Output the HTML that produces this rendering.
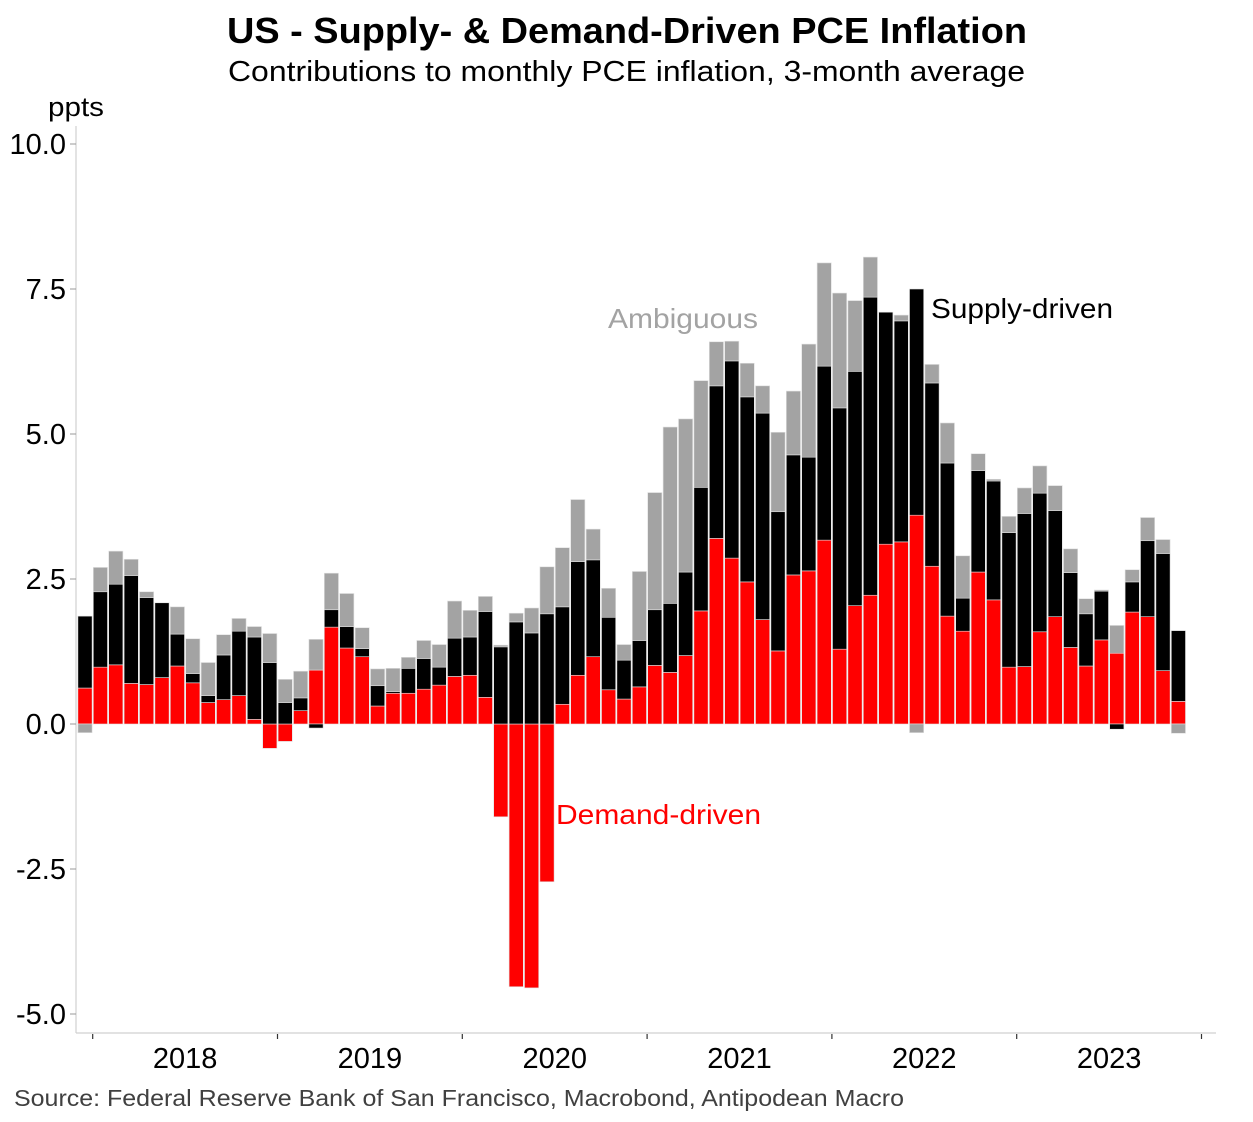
<!DOCTYPE html>
<html><head><meta charset="utf-8"><style>
html,body{margin:0;padding:0;background:#fff;}
svg{display:block;font-family:"Liberation Sans",Arial,sans-serif;}
</style></head><body>
<svg id="chart" width="1253" height="1122" viewBox="0 0 1253 1122">
<text x="227" y="43" font-size="36" font-weight="bold" textLength="800" lengthAdjust="spacingAndGlyphs">US - Supply- &amp; Demand-Driven PCE Inflation</text>
<text x="228" y="81" font-size="29" textLength="797" lengthAdjust="spacingAndGlyphs">Contributions to monthly PCE inflation, 3-month average</text>
<text x="48" y="116" font-size="27" textLength="56" lengthAdjust="spacingAndGlyphs">ppts</text>
<g id="bars"></g>
<g id="axes"></g>
<text x="608" y="328" font-size="28" fill="#a3a3a3" textLength="150" lengthAdjust="spacingAndGlyphs">Ambiguous</text>
<text x="931" y="318" font-size="28" fill="#000" textLength="182" lengthAdjust="spacingAndGlyphs">Supply-driven</text>
<text x="556" y="824" font-size="28" fill="#ff0000" textLength="205" lengthAdjust="spacingAndGlyphs">Demand-driven</text>
<text x="14" y="1106" font-size="23" fill="#404040" textLength="890" lengthAdjust="spacingAndGlyphs">Source: Federal Reserve Bank of San Francisco, Macrobond, Antipodean Macro</text>
</svg>
<script>
const demand=[0.62,0.98,1.02,0.70,0.68,0.80,1.00,0.71,0.37,0.42,0.49,0.08,-0.42,-0.30,0.23,0.93,1.67,1.31,1.16,0.31,0.53,0.53,0.60,0.67,0.82,0.84,0.46,-1.60,-4.53,-4.55,-2.72,0.34,0.84,1.16,0.59,0.43,0.64,1.01,0.89,1.18,1.95,3.20,2.86,2.45,1.80,1.26,2.57,2.64,3.17,1.29,2.04,2.22,3.10,3.14,3.60,2.72,1.86,1.60,2.62,2.14,0.98,0.99,1.59,1.85,1.32,1.00,1.45,1.22,1.93,1.85,0.92,0.39];
const supply=[1.24,1.30,1.39,1.86,1.50,1.29,0.55,0.16,0.12,0.77,1.11,1.42,1.06,0.37,0.22,-0.07,0.30,0.37,0.14,0.35,0.03,0.43,0.53,0.31,0.66,0.66,1.48,1.33,1.76,1.57,1.90,1.68,1.96,1.67,1.25,0.67,0.80,0.96,1.19,1.44,2.13,2.63,3.40,3.19,3.56,2.40,2.07,1.96,3.00,4.16,4.04,5.14,4.00,3.81,3.90,3.16,2.64,0.57,1.75,2.05,2.32,2.64,2.39,1.83,1.29,0.90,0.84,-0.09,0.52,1.31,2.02,1.22];
const ambiguous=[-0.15,0.42,0.57,0.28,0.10,0,0.47,0.60,0.57,0.35,0.22,0.18,0.50,0.40,0.46,0.53,0.63,0.57,0.36,0.29,0.40,0.19,0.31,0.39,0.64,0.46,0.26,0.03,0.15,0.43,0.81,1.02,1.07,0.53,0.50,0.27,1.19,2.02,3.04,2.64,1.84,0.76,0.34,0.58,0.47,1.37,1.10,1.95,1.78,1.98,1.22,0.69,0,0.10,-0.15,0.32,0.69,0.73,0.29,0.03,0.28,0.44,0.47,0.43,0.41,0.26,0.02,0.48,0.21,0.40,0.24,-0.16];
const yTicks=[10,7.5,5,2.5,0,-2.5,-5];
const yTickLabels=["10.0","7.5","5.0","2.5","0.0","-2.5","-5.0"];
const years=["2018","2019","2020","2021","2022","2023"];
const startMonthOffset=1; // series starts Dec 2017

const NS="http://www.w3.org/2000/svg";
const X0=77.3, SLOT=15.4;
function y(v){return 724-58*v;}
function xSlot(i){return X0+SLOT*i;}
function mk(tag,attrs,parent){const e=document.createElementNS(NS,tag);for(const k in attrs)e.setAttribute(k,attrs[k]);parent.appendChild(e);return e;}
const bars=document.getElementById('bars');
const axes=document.getElementById('axes');
const series=[[demand,'#ff0000','demand'],[supply,'#000000','supply'],[ambiguous,'#a3a3a3','ambiguous']];
for(let i=0;i<demand.length;i++){
  let pos=0,neg=0;
  for(const [arr,col,nm] of series){
    const v=arr[i]; if(!v) continue;
    let a,b;
    if(v>0){a=pos;b=pos+v;pos=b;}else{a=neg+v;b=neg;neg=a;}
    const r=mk('rect',{x:xSlot(i)+0.6,y:y(b),width:SLOT-1.2,height:Math.max(0.5,y(a)-y(b)),fill:col,stroke:'#e0e0e0','stroke-width':0.6},bars);
    
    
  }
}
let l=mk('line',{x1:76,y1:126,x2:76,y2:1033,stroke:'#d0d0d0','stroke-width':1.2},axes);


l=mk('line',{x1:76,y1:1033,x2:1216,y2:1033,stroke:'#d0d0d0','stroke-width':1.2},axes);


yTicks.forEach((v,k)=>{
  const t=mk('line',{x1:70,y1:y(v),x2:76,y2:y(v),stroke:'#999','stroke-width':1},axes);
  
  
  const tx=mk('text',{x:66,y:y(v)+10,'text-anchor':'end','font-size':29},axes);
  tx.textContent=yTickLabels[k];
  
  
});
for(let k=0;k<=years.length;k++){
  const xx=xSlot(startMonthOffset+12*k);
  const t=mk('line',{x1:xx,y1:1034,x2:xx,y2:1039,stroke:'#333','stroke-width':1.2},axes);
  
  
  if(k<years.length){
    const tx=mk('text',{x:xx+SLOT*6,y:1068,'text-anchor':'middle','font-size':29},axes);
    tx.textContent=years[k];
    
    
  }
}
</script>
</body></html>
